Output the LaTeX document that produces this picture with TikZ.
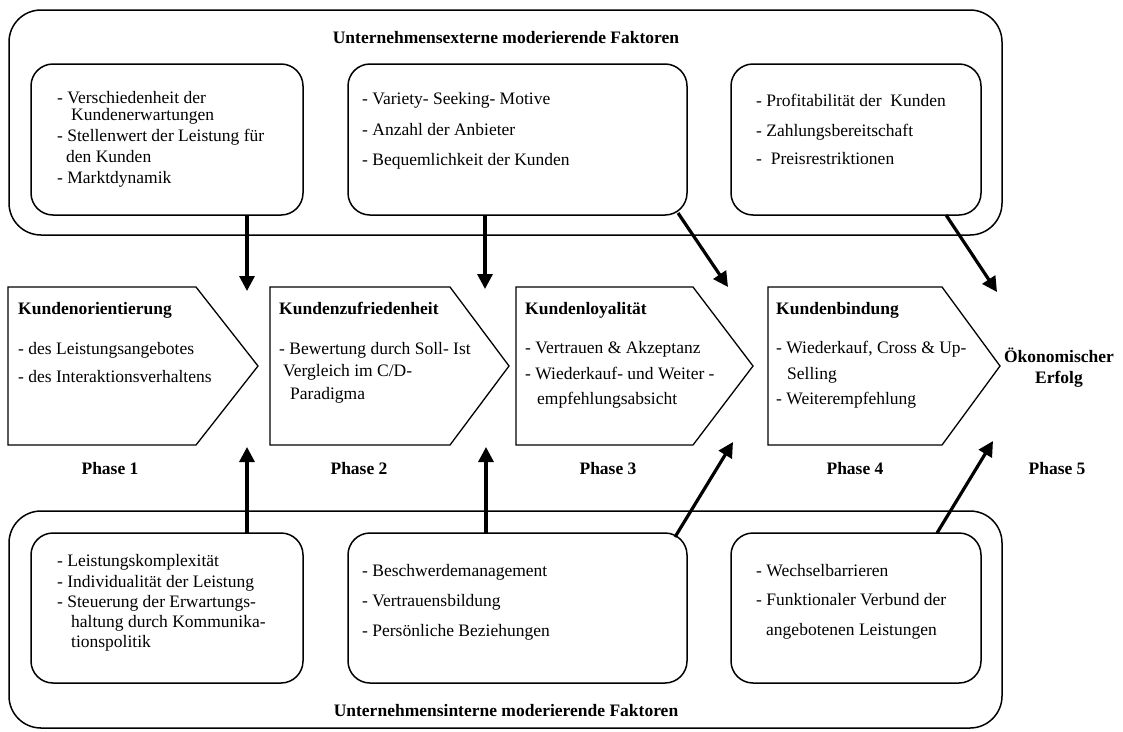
\documentclass[tikz,border=0pt]{standalone}
\usepackage{fontspec}
\setmainfont{Liberation Serif}
\usetikzlibrary{arrows.meta,calc}
\begin{document}
\begin{tikzpicture}[x=1pt,y=-1pt,
  frame/.style={draw, line width=1.5pt, rounded corners=32pt, inner sep=0pt, outer sep=0pt, anchor=north west},
  factorbox/.style={draw, line width=1.5pt, rounded corners=22pt, inner sep=0pt, outer sep=0pt, anchor=north west},
  phaseshape/.style={draw, line width=1.3pt, line join=miter},
  txt/.style={font=\fontsize{17.5}{21}\selectfont, anchor=base west, align=left, inner sep=0pt},
  head/.style={font=\fontsize{17.5}{21}\selectfont\bfseries, inner sep=0pt},
  influence/.style={line width=3.2pt, -{Triangle[length=15pt,width=15pt]}}
]
\useasboundingbox (0,0) rectangle (1123,731);

% ---------- external moderating factors ----------
\node[frame, minimum width=993pt, minimum height=225pt] (extFrame) at (9,10) {};
\node[head, anchor=base] (extTitle) at (506,43) {Unternehmensexterne moderierende Faktoren};

\node[factorbox, minimum width=272pt, minimum height=151pt] (exA) at (31,64) {};
\node[factorbox, minimum width=339pt, minimum height=151pt] (exB) at (348,64) {};
\node[factorbox, minimum width=250pt, minimum height=151pt] (exC) at (731,64) {};

\node[txt] (exAt1) at (57,103) {- Verschiedenheit der};
\node[txt] (exAt2) at (71,120) {Kundenerwartungen};
\node[txt] (exAt3) at (57,141) {- Stellenwert der Leistung für};
\node[txt] (exAt4) at (66,162) {den Kunden};
\node[txt] (exAt5) at (57,183) {- Marktdynamik};

\node[txt] (exBt1) at (362,104) {- Variety- Seeking- Motive};
\node[txt] (exBt2) at (362,135) {- Anzahl der Anbieter};
\node[txt] (exBt3) at (362,165) {- Bequemlichkeit der Kunden};

\node[txt] (exCt1) at (756,106) {- Profitabilität der\ \ Kunden};
\node[txt] (exCt2) at (756,136) {- Zahlungsbereitschaft};
\node[txt] (exCt3) at (756,164) {-\ \ Preisrestriktionen};

% ---------- phases ----------
\draw[phaseshape] (8,287) -- (196,287) -- (258,366) -- (196,445) -- (8,445) -- cycle;
\draw[phaseshape] (270,287) -- (450,287) -- (509,366) -- (450,445) -- (270,445) -- cycle;
\draw[phaseshape] (516,287) -- (693,287) -- (753,366) -- (693,445) -- (516,445) -- cycle;
\draw[phaseshape] (768,287) -- (942,287) -- (1000,366) -- (942,445) -- (768,445) -- cycle;

\node[head, anchor=base west] (p1h) at (18,314) {Kundenorientierung};
\node[txt] (p1t1) at (18,354) {- des Leistungsangebotes};
\node[txt] (p1t2) at (18,382) {- des Interaktionsverhaltens};

\node[head, anchor=base west] (p2h) at (279,314) {Kundenzufriedenheit};
\node[txt] (p2t1) at (279,354) {- Bewertung durch Soll- Ist};
\node[txt] (p2t2) at (283,376) {Vergleich im C/D-};
\node[txt] (p2t3) at (290,399) {Paradigma};

\node[head, anchor=base west] (p3h) at (525,314) {Kundenloyalität};
\node[txt] (p3t1) at (525,353) {- Vertrauen \& Akzeptanz};
\node[txt] (p3t2) at (525,379) {- Wiederkauf- und Weiter -};
\node[txt] (p3t3) at (537,404) {empfehlungsabsicht};

\node[head, anchor=base west] (p4h) at (776,314) {Kundenbindung};
\node[txt] (p4t1) at (776,353) {- Wiederkauf, Cross \& Up-};
\node[txt] (p4t2) at (787,379) {Selling};
\node[txt] (p4t3) at (776,404) {- Weiterempfehlung};

\node[head, align=center, anchor=center] (goal) at (1059,368) {Ökonomischer\\Erfolg};

\node[head, anchor=base] (ph1) at (110,474) {Phase 1};
\node[head, anchor=base] (ph2) at (359,474) {Phase 2};
\node[head, anchor=base] (ph3) at (608,474) {Phase 3};
\node[head, anchor=base] (ph4) at (855,474) {Phase 4};
\node[head, anchor=base] (ph5) at (1057,474) {Phase 5};

% ---------- internal moderating factors ----------
\node[frame, minimum width=993pt, minimum height=217pt] (intFrame) at (9,511) {};
\node[head, anchor=base] (intTitle) at (506,716) {Unternehmensinterne moderierende Faktoren};

\node[factorbox, minimum width=272pt, minimum height=150pt] (inA) at (31,533) {};
\node[factorbox, minimum width=339pt, minimum height=150pt] (inB) at (348,533) {};
\node[factorbox, minimum width=250pt, minimum height=150pt] (inC) at (731,533) {};

\node[txt] (inAt1) at (57,566) {- Leistungskomplexität};
\node[txt] (inAt2) at (57,587) {- Individualität der Leistung};
\node[txt] (inAt3) at (57,607) {- Steuerung der Erwartungs-};
\node[txt] (inAt4) at (71,627) {haltung durch Kommunika-};
\node[txt] (inAt5) at (71,647) {tionspolitik};

\node[txt] (inBt1) at (362,576) {- Beschwerdemanagement};
\node[txt] (inBt2) at (362,606) {- Vertrauensbildung};
\node[txt] (inBt3) at (362,636) {- Persönliche Beziehungen};

\node[txt] (inCt1) at (756,576) {- Wechselbarrieren};
\node[txt] (inCt2) at (756,605) {- Funktionaler Verbund der};
\node[txt] (inCt3) at (766,635) {angebotenen Leistungen};

% ---------- arrow end points ----------
\coordinate (dnA) at (247,291);
\coordinate (dnB) at (485,289);
\coordinate (dnC) at (728,287);
\coordinate (dnD) at (997,292);
\coordinate (upA) at (247,447);
\coordinate (upB) at (486,447);
\coordinate (upC) at (733,442);
\coordinate (upD) at (993,441);

% ---------- influences ----------
\draw[influence] (dnA |- exA.south) -- (dnA);
\draw[influence] (dnB |- exB.south) -- (dnB);
\draw[influence] ($(exB.south east)+(-9,-2)$) -- (dnC);
\draw[influence] ($(exC.south east)+(-35,0)$) -- (dnD);
\draw[influence] (upA |- inA.north) -- (upA);
\draw[influence] (upB |- inB.north) -- (upB);
\draw[influence] ($(inB.north east)+(-12,4)$) -- (upC);
\draw[influence] ($(inC.north east)+(-44,0)$) -- (upD);
\end{tikzpicture}
\end{document}
